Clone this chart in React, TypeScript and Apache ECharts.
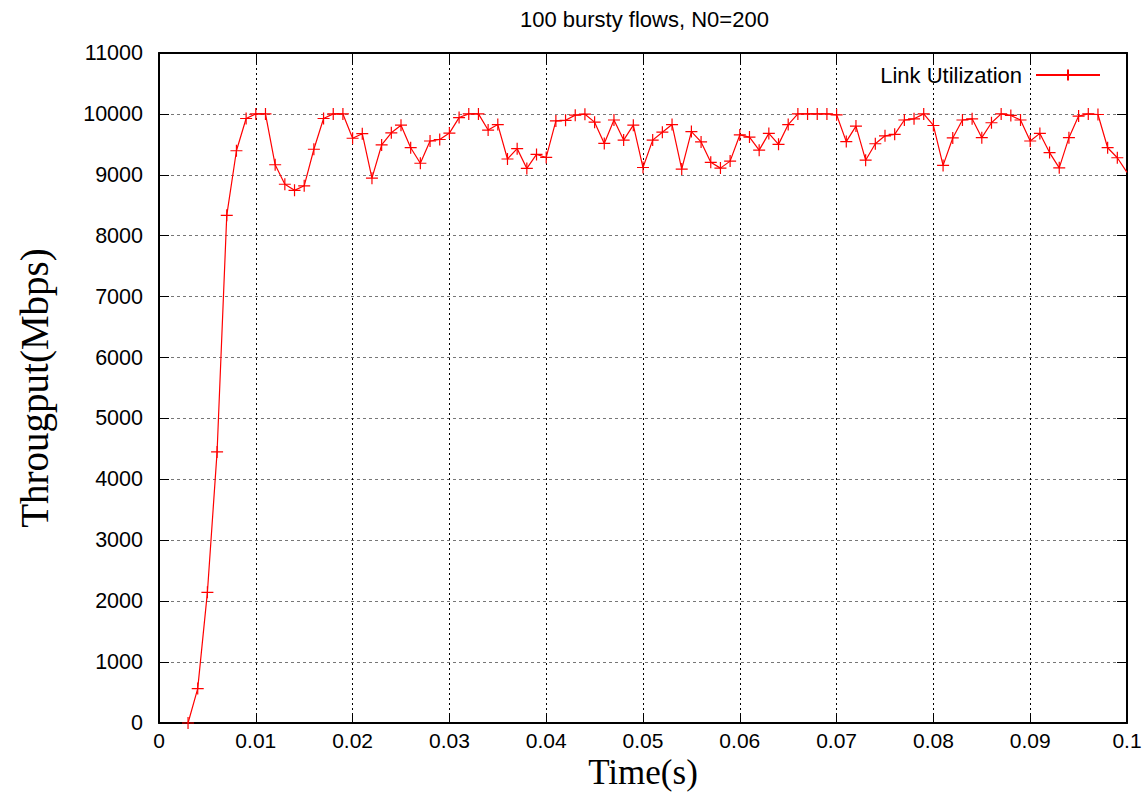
import React, { useEffect, useRef } from "react";
import * as echarts from "echarts";

const times: number[] = [
  0.003, 0.004, 0.005, 0.006, 0.007, 0.008, 0.009, 0.01, 0.011, 0.012,
  0.013, 0.014, 0.015, 0.016, 0.017, 0.018, 0.019, 0.02, 0.021, 0.022,
  0.023, 0.024, 0.025, 0.026, 0.027, 0.028, 0.029, 0.03, 0.031, 0.032,
  0.033, 0.034, 0.035, 0.036, 0.037, 0.038, 0.039, 0.04, 0.041, 0.042,
  0.043, 0.044, 0.045, 0.046, 0.047, 0.048, 0.049, 0.05, 0.051, 0.052,
  0.053, 0.054, 0.055, 0.056, 0.057, 0.058, 0.059, 0.06, 0.061, 0.062,
  0.063, 0.064, 0.065, 0.066, 0.067, 0.068, 0.069, 0.07, 0.071, 0.072,
  0.073, 0.074, 0.075, 0.076, 0.077, 0.078, 0.079, 0.08, 0.081, 0.082,
  0.083, 0.084, 0.085, 0.086, 0.087, 0.088, 0.089, 0.09, 0.091, 0.092,
  0.093, 0.094, 0.095, 0.096, 0.097, 0.098, 0.099, 0.1,
];

const throughput: number[] = [
  0, 565, 2145, 4450, 8335, 9395, 9925, 10000, 10000, 9165,
  8845, 8745, 8820, 9420, 9925, 10000, 10000, 9600, 9675, 8945,
  9490, 9690, 9815, 9445, 9190, 9555, 9580, 9685, 9940, 10000,
  10000, 9735, 9825, 9260, 9430, 9105, 9335, 9285, 9885, 9895,
  9980, 9995, 9865, 9515, 9900, 9570, 9815, 9120, 9570, 9700,
  9825, 9095, 9710, 9540, 9205, 9110, 9225, 9655, 9620, 9405,
  9680, 9500, 9825, 10000, 10000, 10000, 10000, 9985, 9545, 9800,
  9240, 9510, 9640, 9665, 9900, 9920, 10000, 9810, 9155, 9605,
  9900, 9920, 9610, 9855, 10000, 9975, 9900, 9555, 9680, 9365,
  9115, 9610, 9965, 10000, 9990, 9445, 9280, 9040,
];

const titleText = "100 bursty flows, N0=200";
const seriesName = "Link Utilization";
const xName = "Time(s)";
const yName = "Througput(Mbps)";

const SANS = "'Liberation Sans', Arial, sans-serif";
const SERIF = "'Liberation Serif', 'Times New Roman', serif";

export default function App() {
  const ref = useRef<HTMLDivElement>(null);

  useEffect(() => {
    if (!ref.current) return;
    const chart = echarts.init(ref.current, undefined, { renderer: "svg" });

    const data = times.map((t, i) => {
      if (i === times.length - 1) {
        return { value: [t, throughput[i]], symbolSize: 0 };
      }
      return { value: [t, throughput[i]] };
    });

    const mirrorAxisCommon = {
      axisLine: { show: true, onZero: false, lineStyle: { color: "#000", width: 2 } },
      axisTick: { show: true, inside: true, length: 10, lineStyle: { color: "#000", width: 1 } },
      axisLabel: { show: false },
      splitLine: { show: false },
    };

    chart.setOption({
      animation: false,
      backgroundColor: "#fff",
      title: {
        text: titleText,
        left: 515,
        top: 3,
        textStyle: { fontFamily: SANS, fontSize: 22, fontWeight: "normal", color: "#000" },
      },
      legend: {
        data: [seriesName],
        right: 41,
        top: 59,
        align: "right",
        itemWidth: 64,
        itemHeight: 14,
        textStyle: { fontFamily: SANS, fontSize: 22, color: "#000", padding: [0, 9, 0, 0] },
      },
      grid: {
        left: 159,
        width: 968,
        top: 53,
        height: 670,
        containLabel: false,
        outerBoundsMode: "none",
      },
      xAxis: [
        {
          type: "value",
          min: 0,
          max: 0.1,
          interval: 0.01,
          position: "bottom",
          name: xName,
          nameLocation: "middle",
          nameGap: 32.5,
          nameMoveOverlap: false,
          nameTextStyle: { fontFamily: SERIF, fontSize: 35, lineHeight: 34, color: "#000" },
          axisLine: { show: true, onZero: false, lineStyle: { color: "#000", width: 2 } },
          axisTick: { show: true, inside: true, length: 10, lineStyle: { color: "#000", width: 1 } },
          axisLabel: { fontFamily: SANS, fontSize: 21, lineHeight: 22, color: "#000", margin: 6 },
          splitLine: { show: true, lineStyle: { color: "#000", type: [2, 3], width: 1 } },
        },
        {
          type: "value",
          min: 0,
          max: 0.1,
          interval: 0.01,
          position: "top",
          ...mirrorAxisCommon,
        },
      ],
      yAxis: [
        {
          type: "value",
          min: 0,
          max: 11000,
          interval: 1000,
          position: "left",
          name: yName,
          nameLocation: "middle",
          nameGap: 105,
          nameMoveOverlap: false,
          nameTextStyle: { fontFamily: SERIF, fontSize: 39, color: "#000" },
          axisLine: { show: true, onZero: false, lineStyle: { color: "#000", width: 2 } },
          axisTick: { show: true, inside: true, length: 10, lineStyle: { color: "#000", width: 1 } },
          axisLabel: {
            fontFamily: SANS,
            fontSize: 21.5,
            color: "#000",
            margin: 16,
            formatter: (v: number) => String(v),
          },
          splitLine: { show: true, lineStyle: { color: "#777", type: [3, 3], width: 1.2 } },
        },
        {
          type: "value",
          min: 0,
          max: 11000,
          interval: 1000,
          position: "right",
          ...mirrorAxisCommon,
        },
      ],
      series: [
        {
          name: seriesName,
          type: "line",
          xAxisIndex: 0,
          yAxisIndex: 0,
          data,
          symbol: "path://M0,6L12,6M6,0L6,12",
          symbolSize: 12,
          showAllSymbol: true,
          color: "#ff0000",
          lineStyle: { color: "#ff0000", width: 1.2 },
          itemStyle: { color: "#ff0000", borderColor: "#ff0000", borderWidth: 1.2 },
          z: 5,
        },
      ],
    });

    return () => chart.dispose();
  }, []);

  return (
    <div
      ref={ref}
      style={{ position: "fixed", left: 0, top: 0, width: 1147, height: 793 }}
    />
  );
}
